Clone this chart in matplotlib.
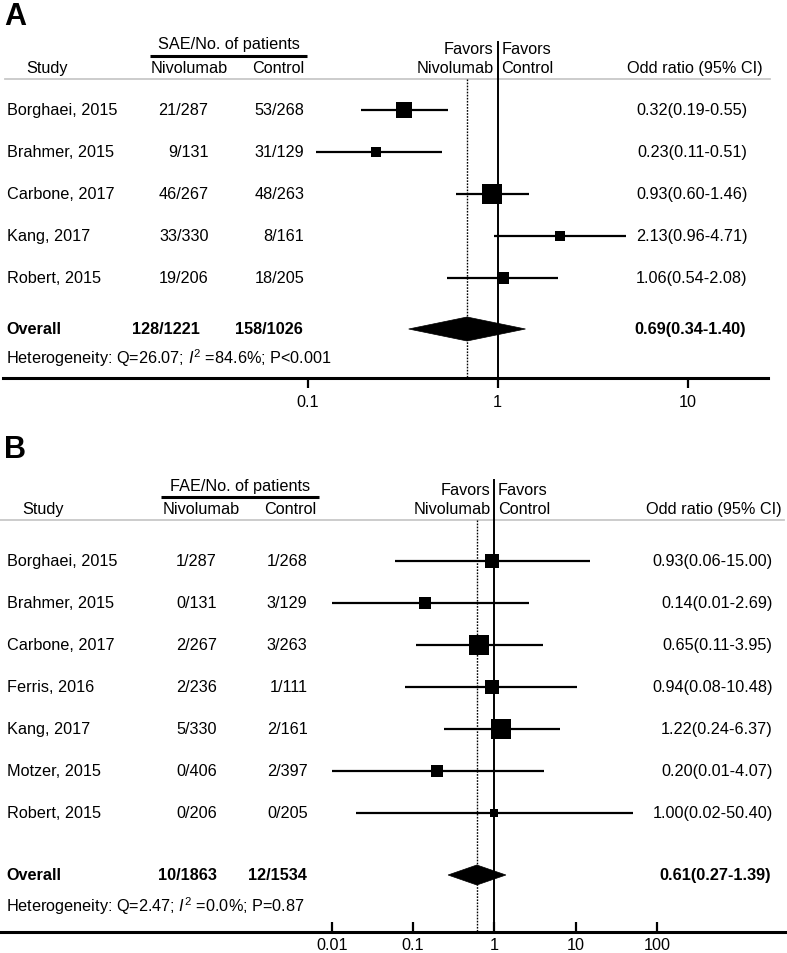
import matplotlib.pyplot as plt
from matplotlib.patches import Polygon
from matplotlib.ticker import NullLocator

plt.rcParams['font.family'] = ['Liberation Sans', 'DejaVu Sans']
plt.rcParams['mathtext.fontset'] = 'custom'
plt.rcParams['mathtext.rm'] = 'Liberation Sans'
plt.rcParams['mathtext.it'] = 'Liberation Sans:italic'

# Panel A - serious adverse events
studies_a = ["Borghaei, 2015", "Brahmer, 2015", "Carbone, 2017", "Kang, 2017", "Robert, 2015"]
nivo_a = ["21/287", "9/131", "46/267", "33/330", "19/206"]
ctrl_a = ["53/268", "31/129", "48/263", "8/161", "18/205"]
or_a = [0.32, 0.23, 0.93, 2.13, 1.06]
lo_a = [0.19, 0.11, 0.60, 0.96, 0.54]
hi_a = [0.55, 0.51, 1.46, 4.71, 2.08]
weight_a = [27, 9, 42, 9, 13]
overall_a = [0.69, 0.34, 1.40]
totals_a = ["128/1221", "158/1026"]
het_a = r"Heterogeneity: Q=26.07; $I^2$ =84.6%; P<0.001"
ticks_a = [0.1, 1, 10]

# Panel B - fatal adverse events
studies_b = ["Borghaei, 2015", "Brahmer, 2015", "Carbone, 2017", "Ferris, 2016",
             "Kang, 2017", "Motzer, 2015", "Robert, 2015"]
nivo_b = ["1/287", "0/131", "2/267", "2/236", "5/330", "0/406", "0/206"]
ctrl_b = ["1/268", "3/129", "3/263", "1/111", "2/161", "2/397", "0/205"]
or_b = [0.93, 0.14, 0.65, 0.94, 1.22, 0.20, 1.00]
lo_b = [0.06, 0.01, 0.11, 0.08, 0.24, 0.01, 0.02]
hi_b = [15.00, 2.69, 3.95, 10.48, 6.37, 4.07, 50.40]
weight_b = [13, 8, 26, 13, 26, 9.5, 4.2]
overall_b = [0.61, 0.27, 1.39]
totals_b = ["10/1863", "12/1534"]
het_b = r"Heterogeneity: Q=2.47; $I^2$ =0.0%; P=0.87"
ticks_b = [0.01, 0.1, 1, 10, 100]

W, H = 787, 954
STEP = 42
FS = 11.7

fig = plt.figure(figsize=(W / 100, H / 100), dpi=100)


def draw_panel(top, bottom, letter, ae, studies, nivo, ctrl, est, lo, hi, weight,
               overall, totals, het, ticks, x1, dec, lay):
    row0 = lay['row0']

    def r(p):
        return (p - row0) / STEP

    def fx(p):
        return p / W

    ax = fig.add_axes([0, 1 - bottom / H, 1, (bottom - top) / H])
    ax.set_xscale('log')
    ax.set_xlim(10 ** ((0 - x1) / dec), 10 ** ((W - x1) / dec))
    ax.set_ylim(r(bottom), r(top))
    ax.patch.set_visible(False)
    tr = ax.get_yaxis_transform()

    # headers
    ax.text(fx(4), r(lay['letter']), letter, transform=tr, fontsize=22, fontweight='bold',
            ha='left', va='center')
    ax.text(fx(lay['ae_x']), r(lay['h1']), ae, transform=tr, fontsize=FS, ha='center', va='center')
    ax.plot([fx(lay['ul'][0]), fx(lay['ul'][1])], [r(lay['ul_y'])] * 2, transform=tr,
            color='black', lw=2.2, solid_capstyle='butt', clip_on=False)
    ax.text(fx(lay['study_x']), r(lay['h2']), "Study", transform=tr, fontsize=FS, ha='center', va='center')
    ax.text(fx(lay['nivo_x']), r(lay['h2']), "Nivolumab", transform=tr, fontsize=FS, ha='center', va='center')
    ax.text(fx(lay['ctrl_x']), r(lay['h2']), "Control", transform=tr, fontsize=FS, ha='center', va='center')
    ax.text(fx(x1 - 4), r(lay['fav1']), "Favors", transform=tr, fontsize=FS, ha='right', va='center')
    ax.text(fx(x1 - 4), r(lay['h2']), "Nivolumab", transform=tr, fontsize=FS, ha='right', va='center')
    ax.text(fx(x1 + 3.5), r(lay['fav1']), "Favors", transform=tr, fontsize=FS, ha='left', va='center')
    ax.text(fx(x1 + 3.5), r(lay['h2']), "Control", transform=tr, fontsize=FS, ha='left', va='center')
    ax.text(fx(lay['orh_x']), r(lay['h2']), "Odd ratio (95% CI)", transform=tr, fontsize=FS,
            ha='right', va='center')
    ax.plot([fx(lay['gray'][0]), fx(lay['gray'][1])], [r(lay['gray_y'])] * 2, transform=tr,
            color='#c8c8c8', lw=1.3, clip_on=False)

    # study rows
    wmax = max(weight)
    for i, name in enumerate(studies):
        ax.text(fx(7), i, name, transform=tr, fontsize=FS, ha='left', va='center')
        ax.text(fx(lay['nivo_r']), i, nivo[i], transform=tr, fontsize=FS, ha='right', va='center')
        ax.text(fx(lay['ctrl_r']), i, ctrl[i], transform=tr, fontsize=FS, ha='right', va='center')
        ax.text(fx(lay['or_r']), i, f"{est[i]:.2f}({lo[i]:.2f}-{hi[i]:.2f})", transform=tr,
                fontsize=FS, ha='right', va='center')
        ax.plot([lo[i], hi[i]], [i, i], color='black', lw=1.6, solid_capstyle='butt', zorder=3)
        side = 20 * (weight[i] / wmax) ** 0.5
        ax.plot([est[i]], [i], marker='s', color='black', markersize=side * 0.72,
                markeredgewidth=0, zorder=4)

    # overall row
    yo = r(lay['ov'])
    ax.text(fx(6), yo, "Overall", transform=tr, fontsize=FS, fontweight='bold', ha='left', va='center')
    ax.text(fx(lay['tot_n']), yo, totals[0], transform=tr, fontsize=FS, fontweight='bold',
            ha='right', va='center')
    ax.text(fx(lay['tot_c']), yo, totals[1], transform=tr, fontsize=FS, fontweight='bold',
            ha='right', va='center')
    ax.text(fx(lay['or_r'] - 2), yo, f"{overall[0]:.2f}({overall[1]:.2f}-{overall[2]:.2f})",
            transform=tr, fontsize=FS, fontweight='bold', ha='right', va='center')
    hd = lay['dh'] / STEP
    diamond = Polygon([(overall[1], yo), (overall[0], yo - hd), (overall[2], yo), (overall[0], yo + hd)],
                      closed=True, facecolor='black', edgecolor='black', lw=0.5, zorder=4)
    ax.add_patch(diamond)
    ax.text(fx(6), r(lay['het']), het, transform=tr, fontsize=FS, ha='left', va='center')

    # reference lines
    y_axis = r(lay['axis'])
    ax.plot([1, 1], [r(lay['vtop']), y_axis], color='black', lw=1.4, zorder=2)
    ax.plot([overall[0], overall[0]], [r(lay['gray_y']), y_axis], color='black', lw=1.0,
            linestyle=(0, (1.2, 1.0)), zorder=2)

    # x axis
    for s in ['top', 'left', 'right']:
        ax.spines[s].set_visible(False)
    ax.spines['bottom'].set_position(('data', y_axis))
    ax.spines['bottom'].set_linewidth(2.2)
    ax.spines['bottom'].set_bounds(10 ** ((lay['axis_x'][0] - x1) / dec),
                                   10 ** ((lay['axis_x'][1] - x1) / dec))
    ax.set_yticks([])
    ax.set_xticks(ticks)
    ax.set_xticklabels([f"{t:g}" for t in ticks])
    ax.xaxis.set_minor_locator(NullLocator())
    ax.tick_params(axis='x', direction=lay['tdir'], length=7.5, width=1.6,
                   labelsize=FS, pad=lay['pad'])
    return ax


lay_a = dict(row0=110.7, letter=17, h1=45, fav1=50, ae_x=228.7, ul=(150, 307), ul_y=56.7, h2=69,
             study_x=46.7, nivo_x=189, ctrl_x=278.3, orh_x=763, gray=(5, 770), gray_y=80,
             nivo_r=208.5, ctrl_r=304.5, or_r=747.5, ov=330, tot_n=200, tot_c=303,
             dh=12, het=358, axis=379, vtop=42.7, axis_x=(2.5, 767.5), tdir='out', pad=4)
draw_panel(0, 430, "A", "SAE/No. of patients", studies_a, nivo_a, ctrl_a, or_a, lo_a, hi_a,
           weight_a, overall_a, totals_a, het_a, ticks_a, 497.7, 190, lay_a)

lay_b = dict(row0=562, letter=450, h1=486.7, fav1=491, ae_x=240, ul=(160.7, 319), ul_y=497.7,
             h2=509.3, study_x=43, nivo_x=200.7, ctrl_x=290.2, orh_x=782, gray=(0, 784),
             gray_y=520.7, nivo_r=217, ctrl_r=307.5, or_r=772.5, ov=876, tot_n=216.5, tot_c=306.5,
             dh=10, het=906, axis=933, vtop=481, axis_x=(0, 787), tdir='in', pad=3.5)
draw_panel(430, 954, "B", "FAE/No. of patients", studies_b, nivo_b, ctrl_b, or_b, lo_b, hi_b,
           weight_b, overall_b, totals_b, het_b, ticks_b, 494.3, 81.3, lay_b)

fig.savefig("out.png", dpi=100)
